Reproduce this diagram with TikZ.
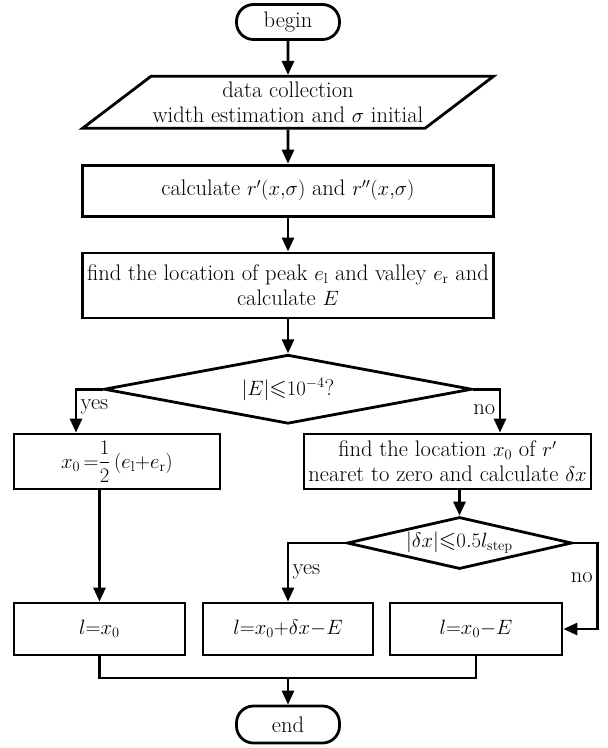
\documentclass[tikz,border=0pt]{standalone}
\usepackage{amsmath,amssymb}
\usetikzlibrary{arrows.meta,shapes.geometric,positioning}

\begin{document}
\begin{tikzpicture}[x=1pt, y=-1pt, >={Triangle[length=14pt,width=12pt]}, line width=2.8pt, node distance=34pt,
    every node/.style={font=\fontsize{22.5}{25}\selectfont},
    term/.style={draw, rectangle, rounded corners=17pt, minimum width=103pt, minimum height=35pt, inner sep=0pt},
    io/.style={draw, trapezium, trapezium left angle=32, trapezium right angle=148, trapezium stretches body,
               minimum width=411pt, minimum height=52pt, inner sep=1pt, align=center},
    proc/.style={draw, rectangle, minimum height=52pt, inner sep=1pt, align=center},
    dec/.style={draw, diamond, aspect=5.3, inner sep=0pt}]
    \useasboundingbox (0,0) rectangle (608,748);

    % Nodes {begin, data, calc, find, test1, ...}
    \node [term]                                   (begin) at (288,22) {begin};
    \node [io]                                     (data) [below=of begin]
          {data collection\\ width estimation and $\sigma$ initial};
    \node [proc, minimum width=411pt, minimum height=51pt] (calc) [below=of data]
          {calculate $r'(x{,}\sigma)$ and $r''(x{,}\sigma)$};
    \node [proc, minimum width=411pt, minimum height=65pt] (find) [below=of calc]
          {find the location of peak $e_{\mathrm{l}}$ and valley $e_{\mathrm{r}}$ and\\ calculate $E$};
    \node [dec, minimum width=368pt, minimum height=69pt]  (test1) [below=of find]
          {$|E|{\leqslant}10^{-4}$?};
    \node [proc, minimum width=206pt, minimum height=55pt] (half) at (117,461.5)
          {$x_0\,{=}\dfrac{1}{2}\,(e_{\mathrm{l}}{+}e_{\mathrm{r}})$};
    \node [proc, minimum width=287pt, minimum height=55pt] (zero) at (447.5,461.5)
          {find the location $x_0$ of $r'$\\ nearet to zero and calculate $\delta x$};
    \node [dec, minimum width=225pt, minimum height=52pt]  (test2) at (459.5,543)
          {$|\delta x|{\leqslant}0.5l_{\mathrm{step}}$};
    \node [proc, minimum width=171pt]              (lhalf) at (99.5,629) {$l{=}x_0$};
    \node [proc, minimum width=170pt]              (lshift) at (288,629) {$l{=}x_0{+}\delta x{-}E$};
    \node [proc, minimum width=172pt]              (lzero) at (476,629) {$l{=}x_0{-}E$};
    \node [term, minimum height=37pt]              (end) at (288,724.5) {end};

    \coordinate (turn) at ([xshift=24pt]test2.east);
    \coordinate (merge) at (288,678);

    % Paths
    \draw [->] (begin) -- (data);
    \draw [->] (data) -- (calc);
    \draw [->] (calc) -- (find);
    \draw [->] (find) -- (test1);
    \draw [->] (test1.west) -| node [pos=0.7, right] {yes} ([xshift=-41pt]half.north);
    \draw [->] (test1.east) -| node [pos=0.73, left] {no} ([xshift=52.5pt]zero.north);
    \draw [->] (lhalf.north |- half.south) -- (lhalf.north);
    \draw [->] (test2.north |- zero.south) -- (test2.north);
    \draw [->] (test2.west) -| node [pos=0.75, right] {yes} (lshift.north);
    \draw [->] (test2.east) -- (turn) |- node [pos=0.2, left] {no} (lzero.east);
    \draw (lhalf.south) |- (merge) -| (lzero.south);
    \draw [->] (merge) -- (end);
\end{tikzpicture}
\end{document}
